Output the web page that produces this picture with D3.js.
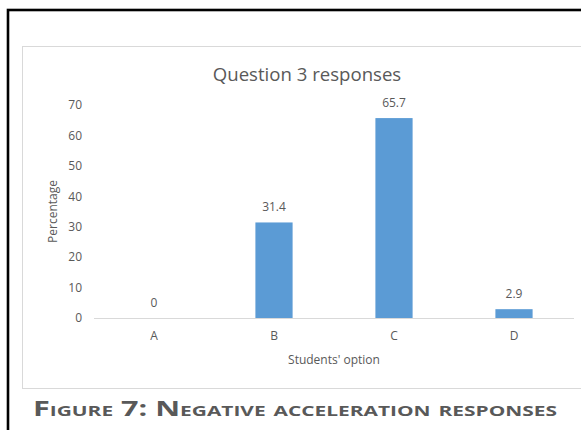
<!DOCTYPE html>
<html>
<head>
<meta charset="utf-8">
<script src="https://cdn.jsdelivr.net/npm/d3@7"></script>
<style>
  html, body { margin: 0; padding: 0; background: #fff; }
  svg { display: block; }
</style>
</head>
<body>
<div id="viz"></div>
<script>
// chart data
const categories = ['A', 'B', 'C', 'D'];
const values = [0, 31.4, 65.7, 2.9];
const yTicks = [0, 10, 20, 30, 40, 50, 60, 70];
const chartTitle = 'Question 3 responses';
const xTitle = "Students' option";
const yTitle = 'Percentage';
const caption = 'Figure 7: Negative acceleration responses';

const width = 581, height = 430;
const plot = { left: 94, right: 574, top: 105, bottom: 318 }; // presets
const textGrey = '#595959', lineGrey = '#d9d9d9', barBlue = '#5b9bd5';
const font = '"Open Sans", "DejaVu Sans", sans-serif';

const svg = d3.select('#viz').append('svg')
  .attr('width', width)
  .attr('height', height)
  .style('font-family', font);

// page frame + chart box
svg.append('rect')
  .attr('x', 8).attr('y', 10)
  .attr('width', 620).attr('height', 460)
  .attr('fill', 'none').attr('stroke', '#000').attr('stroke-width', 2.6);
svg.append('rect')
  .attr('x', 22.5).attr('y', 46.5)
  .attr('width', 600).attr('height', 342)
  .attr('fill', '#fff').attr('stroke', lineGrey).attr('stroke-width', 1);

// scales
const x = d3.scaleBand()
  .domain(categories)
  .range([plot.left, plot.right])
  .paddingInner(0.69)
  .paddingOuter(0.345);
const y = d3.scaleLinear()
  .domain([0, 70])
  .range([plot.bottom, plot.top]);

// y axis labels (no line)
const yAxis = svg.append('g')
  .attr('transform', `translate(${plot.left - 12},0)`)
  .call(d3.axisLeft(y).tickValues(yTicks).tickSize(0).tickPadding(0));
yAxis.select('.domain').remove();
yAxis.selectAll('text')
  .attr('fill', textGrey)
  .style('font-size', '12px')
  .style('font-family', font);

// x axis
const xAxis = svg.append('g')
  .attr('transform', `translate(0,${plot.bottom})`)
  .call(d3.axisBottom(x).tickSize(0).tickPadding(13));
xAxis.select('.domain')
  .attr('stroke', lineGrey)
  .attr('d', `M${plot.left},0.5H${plot.right}`);
xAxis.selectAll('text')
  .attr('fill', textGrey)
  .style('font-size', '12px')
  .style('font-family', font);

// bars
svg.selectAll('rect.bar')
  .data(values)
  .enter().append('rect')
    .attr('class', 'bar')
    .attr('x', (d, i) => x(categories[i]))
    .attr('width', x.bandwidth())
    .attr('y', d => y(d))
    .attr('height', d => y(0) - y(d))
    .attr('fill', barBlue);

// value labels
svg.selectAll('text.val')
  .data(values)
  .enter().append('text')
    .attr('class', 'val')
    .attr('x', (d, i) => x(categories[i]) + x.bandwidth() / 2)
    .attr('y', d => y(d) - 11)
    .attr('text-anchor', 'middle')
    .attr('fill', textGrey)
    .style('font-size', '12px')
    .text(d => d);

// titles
svg.append('text')
  .attr('x', 307).attr('y', 80.5)
  .attr('text-anchor', 'middle')
  .attr('fill', textGrey)
  .style('font-size', '18.6px')
  .text(chartTitle);

svg.append('text')
  .attr('x', (plot.left + plot.right) / 2).attr('y', 364)
  .attr('text-anchor', 'middle')
  .attr('fill', textGrey)
  .style('font-size', '12px')
  .text(xTitle);

svg.append('text')
  .attr('transform', `translate(57,${(plot.top + plot.bottom) / 2})rotate(-90)`)
  .attr('text-anchor', 'middle')
  .attr('fill', textGrey)
  .style('font-size', '12px')
  .text(yTitle);

// figure caption (stretched wide like the source)
svg.append('text')
  .attr('x', 33).attr('y', 416)
  .attr('fill', textGrey)
  .attr('textLength', 524)
  .attr('lengthAdjust', 'spacingAndGlyphs')
  .style('font-size', '20.5px')
  .style('font-weight', 'bold')
  .style('font-variant', 'small-caps')
  .text(caption);
</script>
</body>
</html>
